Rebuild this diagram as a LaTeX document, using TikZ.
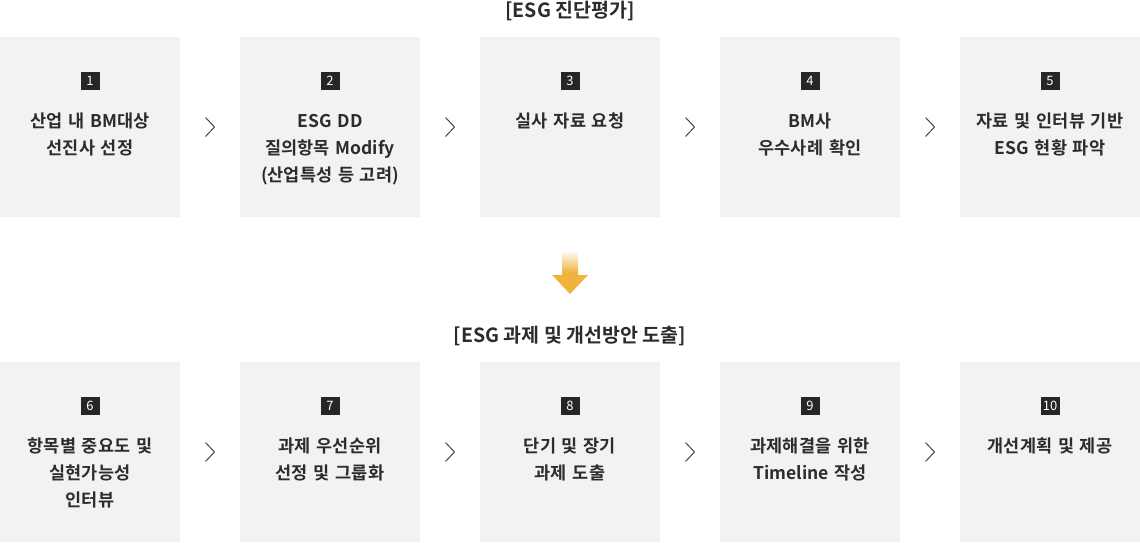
\documentclass[tikz,border=0pt]{standalone}
\usepackage{fontspec}
\setmainfont{Noto Sans CJK KR}[BoldFont={Noto Sans CJK KR Bold}]
\usepackage{tikz}
\usetikzlibrary{calc}
\definecolor{boxbg}{RGB}{242, 242, 242}
\definecolor{ink}{RGB}{44, 44, 44}
\definecolor{badgebg}{RGB}{38, 38, 38}
\definecolor{chevc}{RGB}{70, 70, 70}
\definecolor{arrowc}{RGB}{240, 180, 60}

\tikzset{
  stepbox/.style={fill=boxbg, minimum width=180pt, minimum height=180pt,
                  inner sep=0pt},
  badge/.style={fill=badgebg, text=white, minimum width=19pt,
                minimum height=18pt, inner sep=0pt,
                font=\fontsize{13}{13}\selectfont},
  boxtext/.style={text=ink, text width=180pt, align=center, inner sep=0pt,
                  anchor=base, font=\fontsize{17.5}{27}\selectfont\bfseries},
  rowtitle/.style={text=ink, inner sep=0pt, anchor=base,
                   font=\fontsize{19.5}{19.5}\selectfont\bfseries},
  chev/.style={draw=chevc, line width=1pt}
}

\begin{document}
\begin{tikzpicture}[x=1pt, y=-1pt]
  \useasboundingbox (0, 0) rectangle (1140, 542);

  \pgfmathsetmacro{\dy}{325}

  % first row
  \node[rowtitle] (t1) at (570, 17.5) {[ESG 진단평가]};

  \node[stepbox] (b1) at (90, 127) {};
  \node[stepbox] (b2) at (330, 127) {};
  \node[stepbox] (b3) at (570, 127) {};
  \node[stepbox] (b4) at (810, 127) {};
  \node[stepbox] (b5) at (1050, 127) {};

  \node[badge] (n1) at (90, 81) {1};
  \node[badge] (n2) at (330, 81) {2};
  \node[badge] (n3) at (570, 81) {3};
  \node[badge] (n4) at (810, 81) {4};
  \node[badge] (n5) at (1050, 81) {5};

  \node[boxtext] (s1) at (90, 127.5) {산업 내 BM대상\\선진사 선정};
  \node[boxtext] (s2) at (330, 127.5) {ESG DD\\질의항목 Modify\\(산업특성 등 고려)};
  \node[boxtext] (s3) at (570, 127.5) {실사 자료 요청};
  \node[boxtext] (s4) at (810, 127.5) {BM사\\우수사례 확인};
  \node[boxtext] (s5) at (1050, 127.5) {자료 및 인터뷰 기반\\ESG 현황 파악};

  % arrow between the rows
  \coordinate (a) at (570, 250);
  \fill[arrowc] ($(a) + (-8, 22)$) -- ($(a) + (8, 22)$) -- ($(a) + (8, 25)$)
    -- ($(a) + (18, 25)$) -- ($(a) + (0, 44)$) -- ($(a) + (-18, 25)$)
    -- ($(a) + (-8, 25)$) -- cycle;
  \shade[top color=white, bottom color=arrowc] ($(a) + (-8, 0)$)
    rectangle ($(a) + (8, 22.5)$);

  % second row
  \node[rowtitle] (t2) at (570, 17.5 + \dy) {[ESG 과제 및 개선방안 도출]};

  \node[stepbox] (b6) at (90, 127 + \dy) {};
  \node[stepbox] (b7) at (330, 127 + \dy) {};
  \node[stepbox] (b8) at (570, 127 + \dy) {};
  \node[stepbox] (b9) at (810, 127 + \dy) {};
  \node[stepbox] (b10) at (1050, 127 + \dy) {};

  \node[badge] (n6) at (90, 81 + \dy) {6};
  \node[badge] (n7) at (330, 81 + \dy) {7};
  \node[badge] (n8) at (570, 81 + \dy) {8};
  \node[badge] (n9) at (810, 81 + \dy) {9};
  \node[badge] (n10) at (1050, 81 + \dy) {10};

  \node[boxtext] (s6) at (90, 127.5 + \dy) {항목별 중요도 및\\실현가능성\\인터뷰};
  \node[boxtext] (s7) at (330, 127.5 + \dy) {과제 우선순위\\선정 및 그룹화};
  \node[boxtext] (s8) at (570, 127.5 + \dy) {단기 및 장기\\과제 도출};
  \node[boxtext] (s9) at (810, 127.5 + \dy) {과제해결을 위한\\Timeline 작성};
  \node[boxtext] (s10) at (1050, 127.5 + \dy) {개선계획 및 제공};

  % chevrons
  \draw[chev] ($(b1.east)!0.5!(b2.west) + (-4.5, -9.5)$) -- ++(9, 9.5) -- ++(-9, 9.5);
  \draw[chev] ($(b2.east)!0.5!(b3.west) + (-4.5, -9.5)$) -- ++(9, 9.5) -- ++(-9, 9.5);
  \draw[chev] ($(b3.east)!0.5!(b4.west) + (-4.5, -9.5)$) -- ++(9, 9.5) -- ++(-9, 9.5);
  \draw[chev] ($(b4.east)!0.5!(b5.west) + (-4.5, -9.5)$) -- ++(9, 9.5) -- ++(-9, 9.5);
  \draw[chev] ($(b6.east)!0.5!(b7.west) + (-4.5, -9.5)$) -- ++(9, 9.5) -- ++(-9, 9.5);
  \draw[chev] ($(b7.east)!0.5!(b8.west) + (-4.5, -9.5)$) -- ++(9, 9.5) -- ++(-9, 9.5);
  \draw[chev] ($(b8.east)!0.5!(b9.west) + (-4.5, -9.5)$) -- ++(9, 9.5) -- ++(-9, 9.5);
  \draw[chev] ($(b9.east)!0.5!(b10.west) + (-4.5, -9.5)$) -- ++(9, 9.5) -- ++(-9, 9.5);

\end{tikzpicture}
\end{document}
